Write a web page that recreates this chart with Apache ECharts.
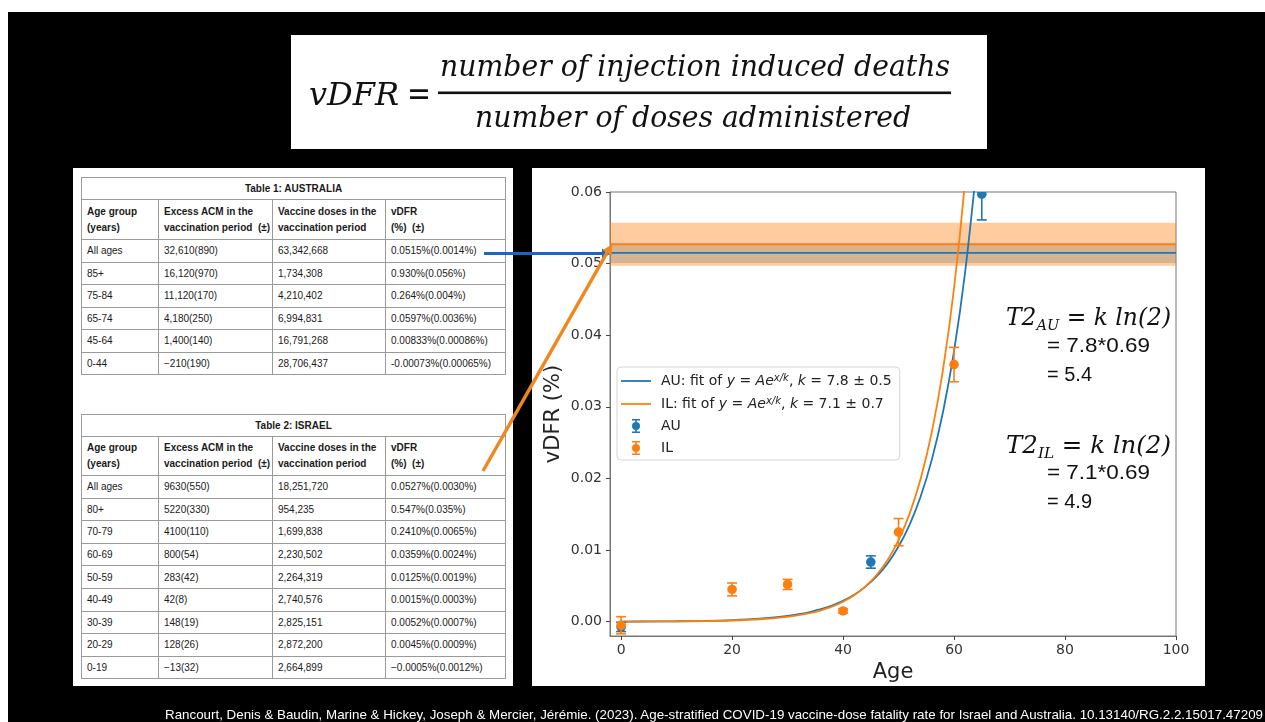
<!DOCTYPE html>
<html><head><meta charset="utf-8">
<script src="https://cdn.jsdelivr.net/npm/echarts@6.0.0/dist/echarts.min.js"></script>
<style>
*{box-sizing:border-box}
html,body{margin:0;padding:0;width:1265px;height:722px;overflow:hidden;background:#fff;position:relative}
#bg{position:absolute;left:8px;top:12px;width:1257px;height:710px;background:#000}
.panel{position:absolute;background:#fff}
table.t{position:absolute;left:81px;width:424px;border-collapse:collapse;table-layout:fixed;font-family:'Liberation Sans',Arial,sans-serif;font-size:10px;color:#1a1a1a}
table.t td{border:1px solid #9a9a9a;padding:0 0 0 5px;white-space:nowrap;overflow:hidden;vertical-align:middle}
table.t tr.title td{text-align:center;font-weight:bold;padding:0}
table.t tr.head td{font-weight:bold;line-height:16px}
#chart{position:absolute;left:0;top:0;width:1265px;height:722px;z-index:2}
#ov{position:absolute;left:0;top:0;z-index:3;pointer-events:none}
</style></head>
<body>
<div id="bg"></div>
<div class="panel" style="left:291px;top:35px;width:696px;height:114px"></div>
<div class="panel" style="left:73px;top:168px;width:440px;height:518px"></div>
<div class="panel" style="left:532px;top:168px;width:673px;height:518px"></div>
<div id="tables"></div>
<div id="chart"></div>
<svg id="ov" width="1265" height="722" xmlns="http://www.w3.org/2000/svg">
  <g fill="#111" font-family="DejaVu Serif" font-style="italic">
    <text x="309" y="105" font-size="32" textLength="90" lengthAdjust="spacingAndGlyphs">vDFR</text>
    <text x="407" y="105" font-size="34" font-style="normal" textLength="24" lengthAdjust="spacingAndGlyphs">=</text>
    <rect x="438" y="91.5" width="513" height="2.6"></rect>
    <text x="440" y="76" font-size="29" textLength="510" lengthAdjust="spacingAndGlyphs">number of injection induced deaths</text>
    <text x="475" y="127" font-size="29" textLength="436" lengthAdjust="spacingAndGlyphs">number of doses administered</text>
  </g>
  <g>
    <line x1="484" y1="253.5" x2="603" y2="253.5" stroke="#1a66c2" stroke-width="3.2"></line>
    <polygon points="611,253.5 602,248.5 602,258.5" fill="#1a66c2"></polygon>
    <line x1="483" y1="471" x2="607" y2="252.7" stroke="#f0871e" stroke-width="3.4"></line>
    <polygon points="612.5,244 611.6,255.4 602.5,250.2" fill="#f0871e"></polygon>
  </g>
  <g fill="#111">
    <text x="1006" y="325" font-family="DejaVu Serif" font-style="italic" font-size="24" textLength="165" lengthAdjust="spacingAndGlyphs">T2<tspan font-size="15" dy="5">AU</tspan><tspan dy="-5">  =  k ln(2)</tspan></text>
    <text x="1047" y="352" font-family="Liberation Sans" font-size="20" textLength="103" lengthAdjust="spacingAndGlyphs">= 7.8*0.69</text>
    <text x="1047" y="381" font-family="Liberation Sans" font-size="20">= 5.4</text>
    <text x="1006" y="453" font-family="DejaVu Serif" font-style="italic" font-size="24" textLength="165" lengthAdjust="spacingAndGlyphs">T2<tspan font-size="15" dy="5">IL</tspan><tspan dy="-5">   =  k ln(2)</tspan></text>
    <text x="1047" y="479" font-family="Liberation Sans" font-size="20" textLength="103" lengthAdjust="spacingAndGlyphs">= 7.1*0.69</text>
    <text x="1047" y="508" font-family="Liberation Sans" font-size="20">= 4.9</text>
  </g>
  <text x="165" y="719" fill="#fff" font-family="Liberation Sans Narrow, Liberation Sans" font-size="13" textLength="1098" lengthAdjust="spacingAndGlyphs">Rancourt, Denis &amp; Baudin, Marine &amp; Hickey, Joseph &amp; Mercier, Jérémie. (2023). Age-stratified COVID-19 vaccine-dose fatality rate for Israel and Australia. 10.13140/RG.2.2.15017.47209</text>
</svg>
<script>
// ---------- table data ----------
var TABLE_HEAD = ['Age group<br>(years)', 'Excess ACM in the<br>vaccination period&nbsp; (±)', 'Vaccine doses in the<br>vaccination period', 'vDFR<br>(%)&nbsp; (±)'];
var AU_GROUPS = ['All ages', '85+', '75-84', '65-74', '45-64', '0-44'];
var AU_ACM = ['32,610(890)', '16,120(970)', '11,120(170)', '4,180(250)', '1,400(140)', '\u2212210(190)'];
var AU_DOSES = ['63,342,668', '1,734,308', '4,210,402', '6,994,831', '16,791,268', '28,706,437'];
var AU_VDFR = ['0.0515%(0.0014%)', '0.930%(0.056%)', '0.264%(0.004%)', '0.0597%(0.0036%)', '0.00833%(0.00086%)', '-0.00073%(0.00065%)'];
var IL_GROUPS = ['All ages', '80+', '70-79', '60-69', '50-59', '40-49', '30-39', '20-29', '0-19'];
var IL_ACM = ['9630(550)', '5220(330)', '4100(110)', '800(54)', '283(42)', '42(8)', '148(19)', '128(26)', '\u221213(32)'];
var IL_DOSES = ['18,251,720', '954,235', '1,699,838', '2,230,502', '2,264,319', '2,740,576', '2,825,151', '2,872,200', '2,664,899'];
var IL_VDFR = ['0.0527%(0.0030%)', '0.547%(0.035%)', '0.2410%(0.0065%)', '0.0359%(0.0024%)', '0.0125%(0.0019%)', '0.0015%(0.0003%)', '0.0052%(0.0007%)', '0.0045%(0.0009%)', '\u22120.0005%(0.0012%)'];

// ---------- chart data ----------
var AU_AGE = [0, 45, 65];
var AU_VAL = [-0.00073, 0.00833, 0.0597];
var AU_ERR = [0.00065, 0.00086, 0.0036];
var IL_AGE = [0, 20, 30, 40, 50, 60];
var IL_VAL = [-0.0005, 0.0045, 0.0052, 0.0015, 0.0125, 0.0359];
var IL_ERR = [0.0012, 0.0009, 0.0007, 0.0003, 0.0019, 0.0024];
var AU_ALL = 0.0515, AU_ALL_ERR = 0.0014;
var IL_ALL = 0.0527, IL_ALL_ERR = 0.0030;
// fitted curves, values
var FIT_AGE = [0, 5, 10, 15, 20, 25, 30, 32, 34, 36, 38, 40, 42, 44, 46, 48, 50, 52, 54, 56, 58, 60, 62, 64];
var AU_FIT = [0.000017, 0.000033, 0.000062, 0.000118, 0.000224, 0.000425, 0.00081, 0.00104, 0.00135, 0.00174, 0.00225, 0.00291, 0.00376, 0.00486, 0.00628, 0.00811, 0.01049, 0.01355, 0.01751, 0.02263, 0.02924, 0.03778, 0.04882, 0.06307];
var IL_FIT = [0.00001, 0.00002, 0.000041, 0.000082, 0.000167, 0.000337, 0.00068, 0.0009, 0.0012, 0.00159, 0.0021, 0.00279, 0.00369, 0.00489, 0.00648, 0.00859, 0.01139, 0.01509, 0.0200, 0.02651, 0.03514, 0.04656, 0.06172, 0.0818];
var AU_K = '7.8', AU_K_ERR = '0.5', IL_K = '7.1', IL_K_ERR = '0.7';
var X_MIN = -2, X_MAX = 100, X_TICKS = [0, 20, 40, 60, 80, 100];
var Y_MIN = -0.002, Y_MAX = 0.06, Y_TICKS = [0, 0.01, 0.02, 0.03, 0.04, 0.05, 0.06];

// ---------- tables ----------
function buildTable(top, title, headH, rowH, g, a, d, v) {
  var h = '<table class="t" style="top:' + top + 'px"><colgroup><col style="width:77px"><col style="width:114px"><col style="width:113px"><col style="width:120px"></colgroup>';
  h += '<tr class="title" style="height:22px"><td colspan="4">' + title + '</td></tr>';
  h += '<tr class="head" style="height:' + headH + 'px">';
  for (var k = 0; k < 4; k++) h += '<td>' + TABLE_HEAD[k] + '</td>';
  h += '</tr>';
  for (var i = 0; i < g.length; i++) {
    h += '<tr style="height:' + rowH + 'px"><td>' + g[i] + '</td><td>' + a[i] + '</td><td>' + d[i] + '</td><td>' + v[i] + '</td></tr>';
  }
  return h + '</table>';
}
document.getElementById('tables').innerHTML =
  buildTable(177, 'Table 1: AUSTRALIA', 40, 22.5, AU_GROUPS, AU_ACM, AU_DOSES, AU_VDFR) +
  buildTable(414, 'Table 2: ISRAEL', 39, 22.6, IL_GROUPS, IL_ACM, IL_DOSES, IL_VDFR);

// ---------- chart ----------
var BLUE = '#1f77b4', ORANGE = '#ff7f0e';
function zip3(a, b, c) { return a.map(function (x, i) { return c ? [x, b[i], c[i]] : [x, b[i]]; }); }
function errRender(color) {
  return function (params, api) {
    var x = api.value(0), y = api.value(1), e = api.value(2);
    var p = api.coord([x, y]), hi = api.coord([x, y + e]), lo = api.coord([x, y - e]);
    var top = params.coordSys.y;
    var cw = 5, lw = 1.6, ch = [];
    var y1 = Math.max(hi[1], top);
    ch.push({ type: 'line', shape: { x1: p[0], y1: y1, x2: p[0], y2: lo[1] }, style: { stroke: color, lineWidth: lw } });
    if (hi[1] >= top) ch.push({ type: 'line', shape: { x1: p[0] - cw, y1: hi[1], x2: p[0] + cw, y2: hi[1] }, style: { stroke: color, lineWidth: lw } });
    ch.push({ type: 'line', shape: { x1: p[0] - cw, y1: lo[1], x2: p[0] + cw, y2: lo[1] }, style: { stroke: color, lineWidth: lw } });
    ch.push({ type: 'circle', shape: { cx: p[0], cy: p[1], r: 4.8 }, style: { fill: color } });
    return { type: 'group', children: ch };
  };
}
var EB_ICON = 'path://M0,0M30,14M11,0h8v1.6h-8zM14.2,0h1.6v14h-1.6zM11,12.4h8v1.6h-8zM11,7a4,4 0 1,1 8,0a4,4 0 1,1 -8,0z';
var LINE_ICON = 'path://M0,0M30,14M0,6.1h30v1.8h-30z';
var FONT = 'DejaVu Sans';
var chart = echarts.init(document.getElementById('chart'), null, { renderer: 'canvas' });
chart.setOption({
  animation: false,
  grid: { left: 610, right: 89, top: 192, bottom: 86, show: true, borderColor: '#777', borderWidth: 1, backgroundColor: 'transparent' },
  xAxis: {
    type: 'value', min: X_MIN, max: X_MAX, name: 'Age', nameLocation: 'middle', nameGap: 21,
    nameTextStyle: { fontFamily: FONT, fontSize: 21, color: '#222' },
    axisLine: { show: true, onZero: false, lineStyle: { color: '#777' } },
    axisTick: { show: true, length: 4, customValues: X_TICKS, lineStyle: { color: '#444' } },
    axisLabel: { customValues: X_TICKS, fontFamily: FONT, fontSize: 14, color: '#333', margin: 7 },
    splitLine: { show: false }
  },
  yAxis: {
    type: 'value', min: Y_MIN, max: Y_MAX, name: 'vDFR (%)', nameLocation: 'middle', nameGap: 46,
    nameTextStyle: { fontFamily: FONT, fontSize: 21, color: '#222' },
    axisLine: { show: true, onZero: false, lineStyle: { color: '#777' } },
    axisTick: { show: true, length: 4, customValues: Y_TICKS, lineStyle: { color: '#444' } },
    axisLabel: { customValues: Y_TICKS, fontFamily: FONT, fontSize: 14, color: '#333', margin: 8, formatter: function (v) { return v.toFixed(2); } },
    splitLine: { show: false }
  },
  legend: {
    left: 617, top: 367, orient: 'vertical', itemWidth: 30, itemHeight: 14, itemGap: 8,
    padding: [6, 8, 5, 4], backgroundColor: 'rgba(255,255,255,0.85)', borderColor: '#d6d6d6', borderWidth: 1, borderRadius: 4,
    selectedMode: false,
    data: [{ name: 'AU fit', icon: LINE_ICON, itemStyle: { color: BLUE } }, { name: 'IL fit', icon: LINE_ICON, itemStyle: { color: ORANGE } },
      { name: 'AU', icon: EB_ICON, itemStyle: { color: BLUE } }, { name: 'IL', icon: EB_ICON, itemStyle: { color: ORANGE } }],
    formatter: function (name) {
      if (name === 'AU fit') return '{g| }{n|AU: fit of }{i|y}{n| = }{i|Ae}{s|x/k}{n|, }{i|k}{n| = ' + AU_K + ' ± ' + AU_K_ERR + '}';
      if (name === 'IL fit') return '{g| }{n|IL: fit of }{i|y}{n| = }{i|Ae}{s|x/k}{n|, }{i|k}{n| = ' + IL_K + ' ± ' + IL_K_ERR + '}';
      return '{g| }{n|' + name + '}';
    },
    textStyle: {
      color: '#222', fontFamily: FONT, fontSize: 14,
      rich: {
        g: { width: 5, fontSize: 14, lineHeight: 16 },
        n: { fontFamily: FONT, fontSize: 14, color: '#222', lineHeight: 16 },
        i: { fontFamily: FONT, fontSize: 14, color: '#222', fontStyle: 'italic', lineHeight: 16 },
        s: { fontFamily: FONT, fontSize: 10, color: '#222', fontStyle: 'italic', verticalAlign: 'top', lineHeight: 10 }
      }
    }
  },
  series: [
    { name: 'AU all', type: 'line', data: [[X_MIN, AU_ALL], [X_MAX, AU_ALL]], symbol: 'none', z: 2,
      lineStyle: { color: BLUE, width: 1.8 }, itemStyle: { color: BLUE },
      markArea: { silent: true, itemStyle: { color: 'rgba(31,119,180,0.3)' }, data: [[{ yAxis: AU_ALL - AU_ALL_ERR }, { yAxis: AU_ALL + AU_ALL_ERR }]] } },
    { name: 'IL all', type: 'line', data: [[X_MIN, IL_ALL], [X_MAX, IL_ALL]], symbol: 'none', z: 2,
      lineStyle: { color: ORANGE, width: 1.8 }, itemStyle: { color: ORANGE },
      markArea: { silent: true, itemStyle: { color: 'rgba(255,127,14,0.4)' }, data: [[{ yAxis: IL_ALL - IL_ALL_ERR }, { yAxis: IL_ALL + IL_ALL_ERR }]] } },
    { name: 'AU fit', type: 'line', data: zip3(FIT_AGE, AU_FIT), symbol: 'none', smooth: 0.3, z: 3,
      lineStyle: { color: BLUE, width: 1.8 }, itemStyle: { color: BLUE } },
    { name: 'IL fit', type: 'line', data: zip3(FIT_AGE, IL_FIT), symbol: 'none', smooth: 0.3, z: 4,
      lineStyle: { color: ORANGE, width: 1.8 }, itemStyle: { color: ORANGE } },
    { name: 'AU', type: 'custom', data: zip3(AU_AGE, AU_VAL, AU_ERR), renderItem: errRender(BLUE), clip: true, z: 5,
      encode: { x: 0, y: 1 }, itemStyle: { color: BLUE } },
    { name: 'IL', type: 'custom', data: zip3(IL_AGE, IL_VAL, IL_ERR), renderItem: errRender(ORANGE), clip: true, z: 6,
      encode: { x: 0, y: 1 }, itemStyle: { color: ORANGE } }
  ]
});
</script>
</body></html>
